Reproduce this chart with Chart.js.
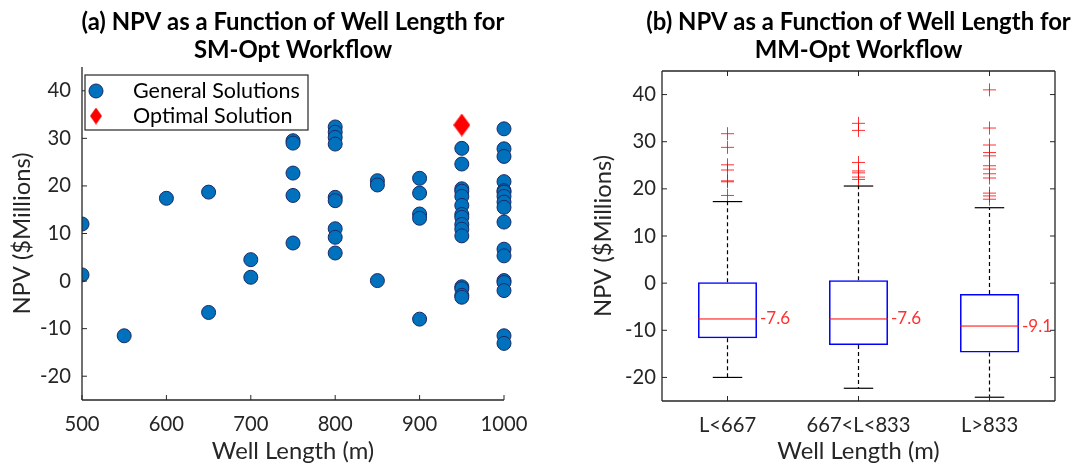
<!DOCTYPE html>
<html>
<head>
<meta charset="utf-8">
<script src="https://cdn.jsdelivr.net/npm/chart.js@4.4.0/dist/chart.umd.min.js"></script>
<style>
html,body{margin:0;padding:0;background:#fff;overflow:hidden;width:1074px;height:466px;position:relative}
canvas{position:absolute;top:0}
#c1{left:0;width:586px;height:466px}
#c2{left:537px;width:643px;height:466px}
</style>
</head>
<body>
<canvas id="c1" width="586" height="466"></canvas>
<canvas id="c2" width="643" height="466"></canvas>
<script>
// ---------- (a) scatter data ----------
const generalLength = [
  500, 500,
  550,
  600,
  650, 650,
  700, 700,
  750, 750, 750, 750, 750,
  800, 800, 800, 800, 800, 800, 800, 800, 800,
  850, 850, 850,
  900, 900, 900, 900, 900,
  950, 950, 950, 950, 950, 950, 950, 950, 950, 950, 950, 950, 950, 950, 950,
  1000, 1000, 1000, 1000, 1000, 1000, 1000, 1000, 1000, 1000, 1000, 1000, 1000, 1000, 1000, 1000, 1000
];
const generalNPV = [
  12.0, 1.3,
  -11.5,
  17.4,
  18.7, -6.6,
  4.5, 0.8,
  29.5, 29.0, 22.7, 18.0, 8.0,
  32.4, 31.3, 30.2, 28.8, 17.6, 16.9, 11.0, 9.2, 5.9,
  21.1, 20.2, 0.1,
  21.6, 18.5, 14.1, 13.2, -8.0,
  27.9, 24.6, 19.4, 18.9, 17.8, 15.9, 14.0, 13.4, 11.9, 10.9, 9.5, -1.2, -1.6, -3.0, -3.4,
  32.0, 27.8, 26.2, 20.9, 19.0, 18.7, 17.8, 16.6, 15.5, 12.4, 6.7, 5.3, 0.1, -0.3, -2.0, -11.5, -13.1
];
const optimalLength = [950];
const optimalNPV = [32.8];
const lengthTicks = [500, 600, 700, 800, 900, 1000];
const npvTicks = [-20, -10, 0, 10, 20, 30, 40];

// ---------- (b) box plot data ----------
const groups = ['L<667', '667<L<833', 'L>833'];
const boxQ1 = [-11.7, -13.1, -14.7];
const boxMedian = [-7.6, -7.6, -9.1];
const boxQ3 = [0.2, 0.6, -2.3];
const whiskerLow = [-20.0, -22.3, -24.2];
const whiskerHigh = [17.3, 20.6, 16.0];
const outliersShort = [31.7, 28.8, 25.1, 24.0, 21.7, 21.5, 18.6];
const outliersMid = [33.9, 32.4, 25.6, 23.8, 23.4, 22.5, 22.0];
const outliersLong = [41.0, 32.9, 29.3, 27.7, 27.0, 24.9, 24.2, 23.2, 22.3, 19.1, 18.5, 17.8];

// ---------- styling helpers ----------
const FAMILY = 'Lato, "Open Sans", sans-serif';
const AX = '#262626';
const meas = document.createElement('canvas').getContext('2d');
function fit(text, weight, target) {
  meas.font = weight + ' 100px ' + FAMILY;
  return Math.round(1000 * target / meas.measureText(text).width) / 10;
}
const titleSize = fit('(a) NPV as a Function of Well Length for', 'bold', 424);
const axisTitleSize = fit('NPV ($Millions)', 'normal', 162);
const tickSize = fit('667<L<833', 'normal', 104);
const legendSize = fit('General Solutions', 'normal', 167);
const medianSize = fit('-7.6', 'normal', 30);
const axLH = axisTitleSize * 1.2;

function makeDiamond(w, h, color) {
  const c = document.createElement('canvas');
  c.width = w; c.height = h;
  const g = c.getContext('2d');
  g.fillStyle = color;
  g.beginPath();
  g.moveTo(w / 2, 0); g.lineTo(w, h / 2); g.lineTo(w / 2, h); g.lineTo(0, h / 2);
  g.closePath(); g.fill();
  return c;
}
const diamondBig = makeDiamond(17, 23, '#ff0000');
const diamondSmall = makeDiamond(12, 17, '#ff0000');

// axis lines + inward ticks
const frameTicks = {
  id: 'frameTicks',
  afterDraw(chart, args, opts) {
    const {ctx, chartArea: a, scales} = chart;
    const x = scales.x, y = scales.y, L = 5;
    const s = opts.sides || [];
    ctx.save();
    ctx.strokeStyle = AX;
    ctx.lineWidth = 1.3;
    ctx.beginPath();
    if (s.includes('left')) { ctx.moveTo(a.left, a.top); ctx.lineTo(a.left, a.bottom); }
    if (s.includes('right')) { ctx.moveTo(a.right, a.top); ctx.lineTo(a.right, a.bottom); }
    if (s.includes('bottom')) { ctx.moveTo(a.left, a.bottom); ctx.lineTo(a.right, a.bottom); }
    if (s.includes('top')) { ctx.moveTo(a.left, a.top); ctx.lineTo(a.right, a.top); }
    ctx.stroke();
    ctx.lineWidth = 1;
    ctx.beginPath();
    x.ticks.forEach((t, i) => {
      const px = x.getPixelForTick(i);
      if (s.includes('bottom')) { ctx.moveTo(px, a.bottom); ctx.lineTo(px, a.bottom - L); }
      if (s.includes('top')) { ctx.moveTo(px, a.top); ctx.lineTo(px, a.top + L); }
    });
    y.ticks.forEach((t, i) => {
      const py = y.getPixelForTick(i);
      if (s.includes('left')) { ctx.moveTo(a.left, py); ctx.lineTo(a.left + L, py); }
      if (s.includes('right')) { ctx.moveTo(a.right, py); ctx.lineTo(a.right - L, py); }
    });
    ctx.stroke();
    ctx.restore();
  }
};

// legend box inside plot (a)
const boxLegend = {
  id: 'boxLegend',
  afterDraw(chart) {
    const {ctx, chartArea: a} = chart;
    const L = a.left + 3, T = a.top + 8, W = 223, H = 55;
    ctx.save();
    ctx.fillStyle = '#fff';
    ctx.fillRect(L, T, W, H);
    ctx.strokeStyle = AX; ctx.lineWidth = 1.2;
    ctx.strokeRect(L, T, W, H);
    chart.data.datasets.forEach((ds, i) => {
      const cx = L + 11, cy = T + 16 + i * 25;
      if (ds.pointStyle === 'circle') {
        ctx.beginPath();
        ctx.arc(cx, cy, ds.pointRadius, 0, Math.PI * 2);
        ctx.fillStyle = ds.backgroundColor; ctx.fill();
        ctx.strokeStyle = ds.borderColor; ctx.lineWidth = ds.borderWidth; ctx.stroke();
      } else {
        ctx.drawImage(diamondSmall, cx - diamondSmall.width / 2, cy - diamondSmall.height / 2);
      }
      ctx.fillStyle = '#000';
      ctx.font = legendSize + 'px ' + FAMILY;
      ctx.textBaseline = 'middle'; ctx.textAlign = 'left';
      ctx.fillText(ds.label, L + 48, cy);
    });
    ctx.restore();
  }
};

// whiskers, caps, medians for (b)
const boxExtras = {
  id: 'boxExtras',
  afterDatasetsDraw(chart) {
    const {ctx, scales: {x, y}} = chart;
    const bars = chart.getDatasetMeta(0).data;
    const line = (x1, y1, x2, y2) => { ctx.beginPath(); ctx.moveTo(x1, y1); ctx.lineTo(x2, y2); ctx.stroke(); };
    ctx.save();
    groups.forEach((g, i) => {
      const cx = x.getPixelForValue(i);
      const w = bars[i].width;
      ctx.strokeStyle = '#000'; ctx.lineWidth = 1.2;
      ctx.setLineDash([4, 3]);
      line(cx, y.getPixelForValue(boxQ3[i]), cx, y.getPixelForValue(whiskerHigh[i]));
      line(cx, y.getPixelForValue(boxQ1[i]), cx, y.getPixelForValue(whiskerLow[i]));
      ctx.setLineDash([]);
      line(cx - w / 4, y.getPixelForValue(whiskerHigh[i]), cx + w / 4, y.getPixelForValue(whiskerHigh[i]));
      line(cx - w / 4, y.getPixelForValue(whiskerLow[i]), cx + w / 4, y.getPixelForValue(whiskerLow[i]));
      const my = y.getPixelForValue(boxMedian[i]);
      ctx.strokeStyle = '#ff0000'; ctx.lineWidth = 1;
      line(cx - w / 2, my, cx + w / 2, my);
      ctx.fillStyle = '#ff3030';
      ctx.font = medianSize + 'px ' + FAMILY;
      ctx.textAlign = 'left'; ctx.textBaseline = 'middle';
      ctx.fillText(boxMedian[i].toFixed(1), cx + w / 2 + 3, my);
    });
    ctx.restore();
  }
};

const tickFont = {family: FAMILY, size: tickSize};
const axisTitleFont = {family: FAMILY, size: axisTitleSize, lineHeight: 1.2};
const titleFont = {family: FAMILY, size: titleSize, weight: 'bold', lineHeight: '28px'};
const setTicks = (vals) => (s) => { s.ticks = vals.map(v => ({value: v})); };
const plainLabel = (v) => String(v);

// ---------- chart (a) ----------
new Chart(document.getElementById('c1'), {
  type: 'scatter',
  data: {
    datasets: [
      {
        label: 'General Solutions',
        data: generalLength.map((v, i) => ({x: v, y: generalNPV[i]})),
        pointStyle: 'circle', pointRadius: 7, pointHoverRadius: 7,
        backgroundColor: '#0072BD', borderColor: '#1b2a66', borderWidth: 1,
        clip: {left: 0, top: false, right: false, bottom: false}
      },
      {
        label: 'Optimal Solution',
        data: optimalLength.map((v, i) => ({x: v, y: optimalNPV[i]})),
        pointStyle: diamondBig, pointRadius: 10, pointHoverRadius: 10,
        backgroundColor: '#ff0000', borderColor: '#ff0000',
        clip: false
      }
    ]
  },
  options: {
    responsive: false, animation: false, devicePixelRatio: 1,
    layout: {padding: 0},
    events: [],
    plugins: {
      legend: {display: false}, tooltip: {enabled: false},
      title: {display: true, text: ['(a) NPV as a Function of Well Length for', 'SM-Opt Workflow'],
        font: titleFont, color: '#000', padding: {top: 8, bottom: 3}},
      frameTicks: {sides: ['left', 'bottom']}
    },
    scales: {
      x: {
        type: 'linear', min: 500, max: 1000,
        afterBuildTicks: setTicks(lengthTicks),
        grid: {display: false, drawTicks: false}, border: {display: false},
        ticks: {font: tickFont, color: AX, padding: 12, maxRotation: 0, autoSkip: false, callback: plainLabel},
        title: {display: true, text: 'Well Length (m)', font: axisTitleFont, color: AX,
          padding: {top: 0, bottom: 466 - 451 - axLH / 2}},
        afterFit: (s) => { s.height = 66; }
      },
      y: {
        type: 'linear', min: -25, max: 45,
        afterBuildTicks: setTicks(npvTicks),
        grid: {display: false, drawTicks: false}, border: {display: false},
        ticks: {font: tickFont, color: AX, padding: 11, autoSkip: false, callback: plainLabel},
        title: {display: true, text: 'NPV ($Millions)', font: axisTitleFont, color: AX,
          padding: {top: 22 - axLH / 2, bottom: 0}},
        afterFit: (s) => { s.width = 82; }
      },
      yR: {
        type: 'linear', position: 'right', display: true, min: 0, max: 1,
        grid: {display: false, drawTicks: false}, border: {display: false},
        ticks: {display: false},
        afterFit: (s) => { s.width = 82; }
      }
    }
  },
  plugins: [frameTicks, boxLegend]
});

// ---------- chart (b) ----------
const outlierPoints = []
  .concat(outliersShort.map(v => ({x: groups[0], y: v})))
  .concat(outliersMid.map(v => ({x: groups[1], y: v})))
  .concat(outliersLong.map(v => ({x: groups[2], y: v})));

new Chart(document.getElementById('c2'), {
  type: 'bar',
  data: {
    labels: groups,
    datasets: [
      {
        type: 'bar', label: 'Box',
        data: groups.map((g, i) => [boxQ1[i], boxQ3[i]]),
        backgroundColor: 'rgba(0,0,0,0)', borderColor: '#0000ff', borderWidth: 1.5,
        borderSkipped: false, barPercentage: 0.45, categoryPercentage: 1, order: 2
      },
      {
        type: 'line', label: 'Outliers', data: outlierPoints, showLine: false,
        pointStyle: 'cross', pointRadius: 6.5, pointHoverRadius: 6.5,
        borderColor: 'rgba(255,0,0,0.8)', backgroundColor: 'rgba(255,0,0,0.8)', borderWidth: 1, order: 1
      }
    ]
  },
  options: {
    responsive: false, animation: false, devicePixelRatio: 1,
    layout: {padding: 0},
    events: [],
    plugins: {
      legend: {display: false}, tooltip: {enabled: false},
      title: {display: true, text: ['(b) NPV as a Function of Well Length for', 'MM-Opt Workflow'],
        font: titleFont, color: '#000', padding: {top: 8, bottom: 7}},
      frameTicks: {sides: ['left', 'right', 'top', 'bottom']}
    },
    scales: {
      x: {
        type: 'category', offset: true,
        grid: {display: false, drawTicks: false}, border: {display: false},
        ticks: {font: tickFont, color: AX, padding: 12, maxRotation: 0, autoSkip: false},
        title: {display: true, text: 'Well Length (m)', font: axisTitleFont, color: AX,
          padding: {top: 0, bottom: 466 - 451 - axLH / 2}},
        afterFit: (s) => { s.height = 65; }
      },
      y: {
        type: 'linear', min: -25, max: 45,
        afterBuildTicks: setTicks(npvTicks),
        grid: {display: false, drawTicks: false}, border: {display: false},
        ticks: {font: tickFont, color: AX, padding: 6, autoSkip: false, callback: plainLabel},
        title: {display: true, text: 'NPV ($Millions)', font: axisTitleFont, color: AX,
          padding: {top: 66 - axLH / 2, bottom: 0}},
        afterFit: (s) => { s.width = 125; }
      },
      yR: {
        type: 'linear', position: 'right', display: true, min: 0, max: 1,
        grid: {display: false, drawTicks: false}, border: {display: false},
        ticks: {display: false},
        afterFit: (s) => { s.width = 125; }
      }
    }
  },
  plugins: [frameTicks, boxExtras]
});
</script>
</body>
</html>
